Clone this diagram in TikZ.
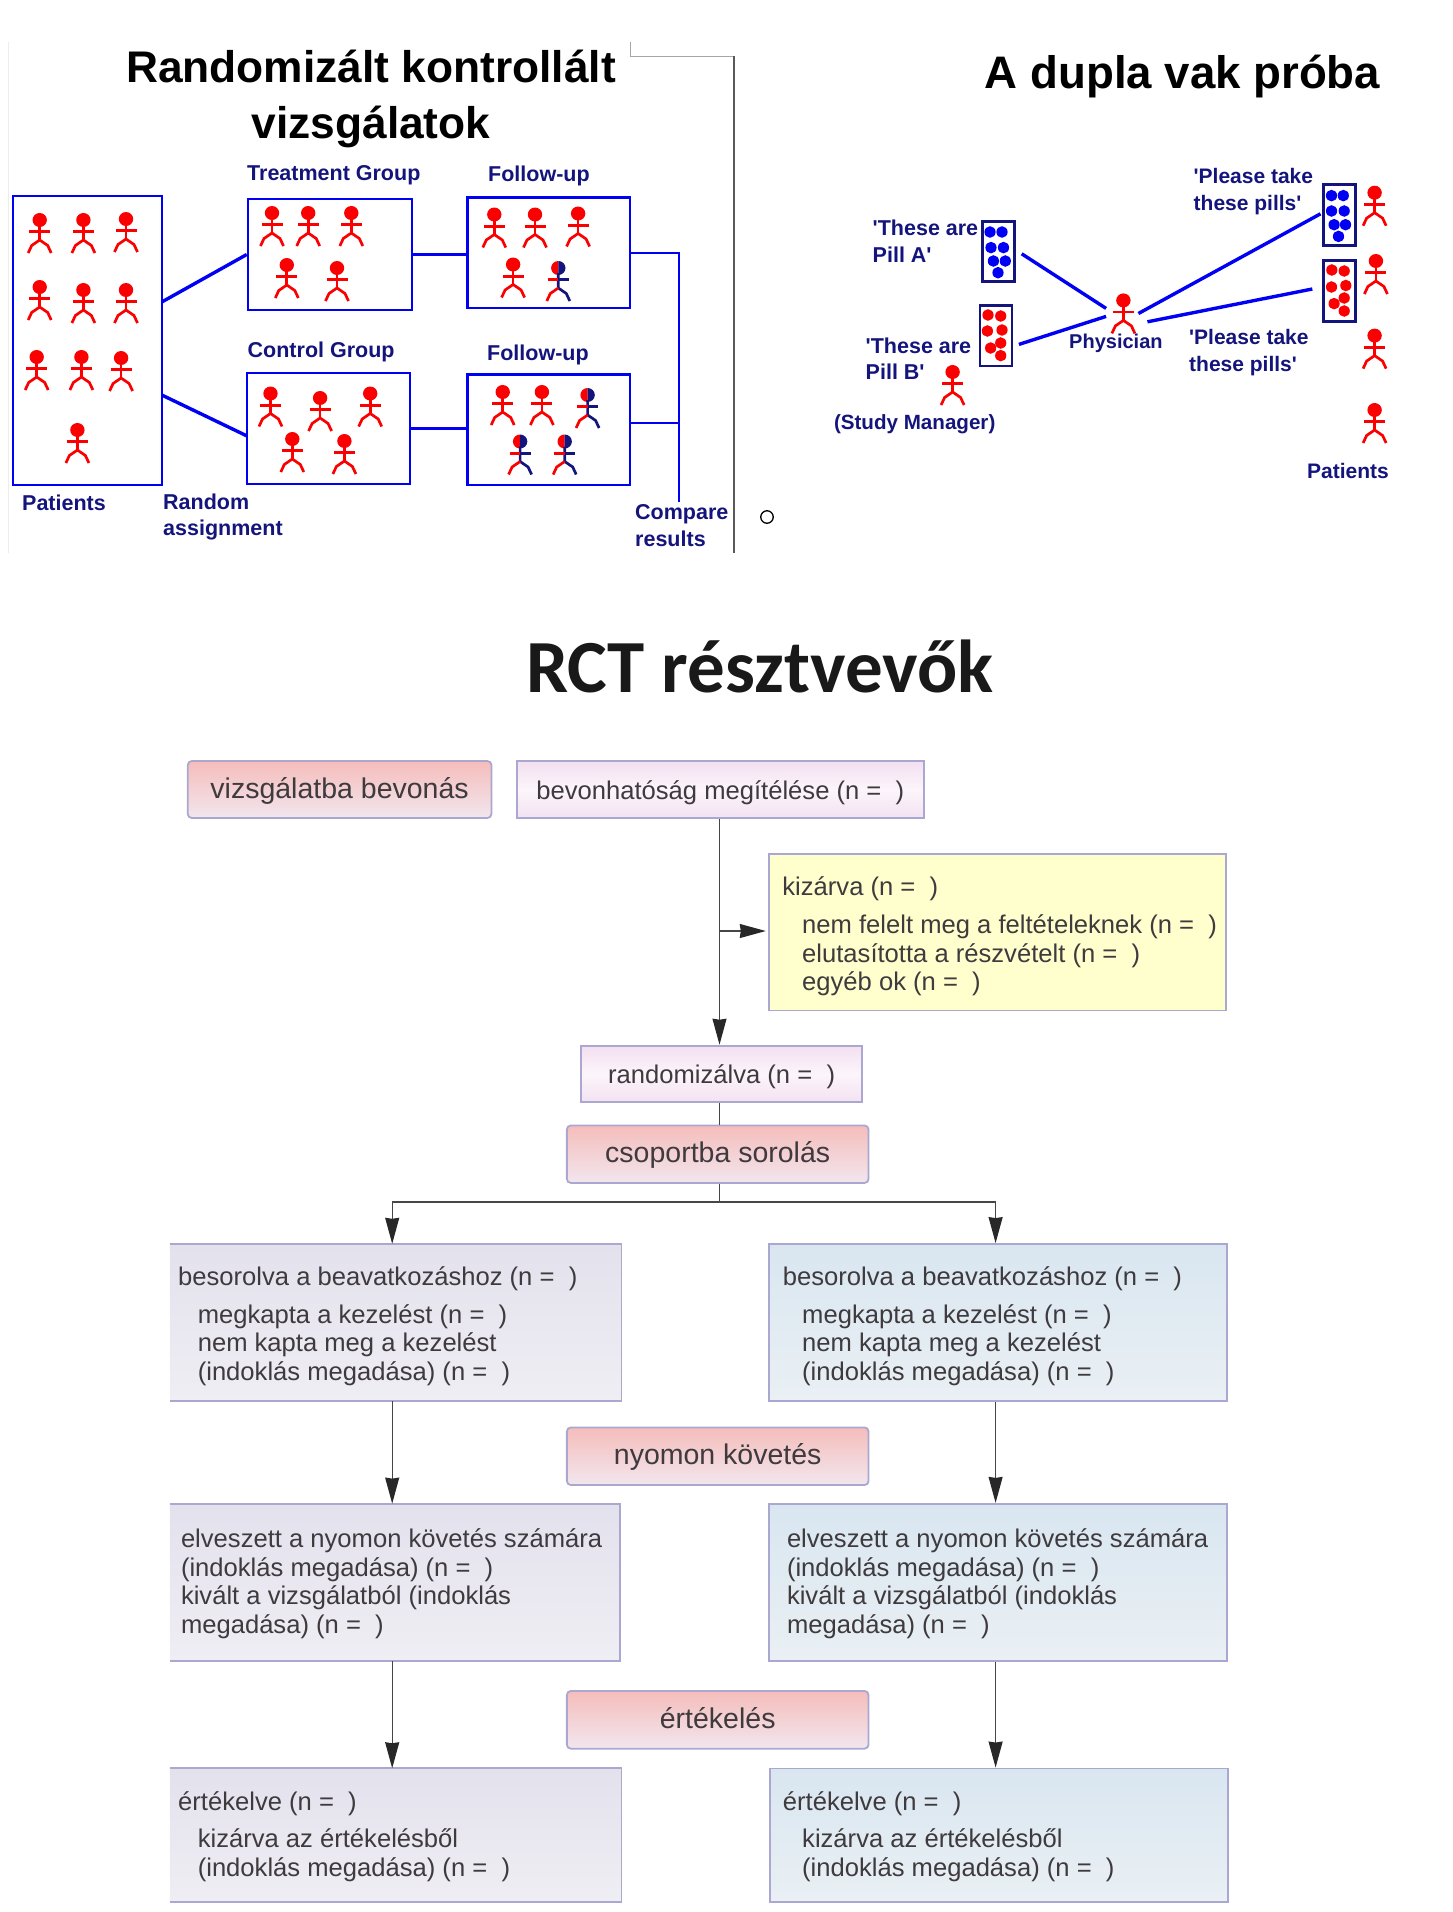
\documentclass[tikz,border=0pt]{standalone}
\usepackage{fontspec}
\setmainfont{Liberation Sans}
\newfontfamily\slidefont{Carlito}
\usetikzlibrary{positioning, arrows.meta, calc}

\definecolor{labelnavy}{RGB}{20,20,125}
\definecolor{wireblue}{RGB}{0,0,245}
\definecolor{stickred}{RGB}{250,0,0}
\definecolor{edgelilac}{RGB}{170,168,208}
\definecolor{flowgray}{RGB}{70,70,70}
\definecolor{tipgray}{RGB}{40,40,40}
\definecolor{copygray}{RGB}{62,58,62}
\definecolor{stagetop}{RGB}{245,189,187}
\definecolor{stagelow}{RGB}{242,230,238}
\definecolor{counttop}{RGB}{243,223,240}
\definecolor{countmid}{RGB}{252,245,251}
\definecolor{countlow}{RGB}{243,226,242}
\definecolor{notefill}{RGB}{255,255,205}
\definecolor{armLtop}{RGB}{227,225,236}
\definecolor{armLlow}{RGB}{239,238,244}
\definecolor{armRtop}{RGB}{217,230,240}
\definecolor{armRlow}{RGB}{234,240,244}

\newcommand{\stickman}[2]{%
  \fill[stickred] (#1,#2) ellipse (7.2 and 7);
  \draw[man, stickred] ($(#1,#2)+(0,5)$) -- ++(0,15);
  \draw[man, stickred] ($(#1,#2)+(-10.5,11.7)$) -- ++(21,0);
  \draw[man, stickred] ($(#1,#2)+(-11.5,33)$) -- ++(3.5,-7.5) -- ++(8,-5.5) -- ++(8,5.5) -- ++(3.5,7.5);
}
\newcommand{\halfman}[2]{%
  \fill[stickred] ($(#1,#2)+(0,-7)$) arc[start angle=90, end angle=270, x radius=7.2, y radius=-7];
  \fill[labelnavy] ($(#1,#2)+(0,-7)$) arc[start angle=90, end angle=-90, x radius=7.2, y radius=-7];
  \draw[man, labelnavy] ($(#1,#2)+(0,5)$) -- ++(0,15) -- ++(8,5.5) -- ++(3.5,7.5);
  \draw[man, stickred] ($(#1,#2)+(0,20)$) -- ++(-8,5.5) -- ++(-3.5,7.5);
  \draw[man, stickred] ($(#1,#2)+(-10.5,11.7)$) -- ++(10.5,0);
  \draw[man, labelnavy] ($(#1,#2)+(0,11.7)$) -- ++(10.5,0);
}

\begin{document}
\begin{tikzpicture}[
  x=1pt, y=-1pt,
  >=Stealth,
  man/.style={line width=2.7pt},
  wire/.style={draw=wireblue, line width=2.4pt},
  slash/.style={draw=wireblue, line width=3.4pt},
  group/.style={draw=wireblue, line width=2.5pt, inner sep=0pt},
  bottle/.style={draw=labelnavy, line width=2.6pt, inner sep=0pt,
                 minimum width=32pt, minimum height=60.5pt},
  lab/.style={font=\fontsize{#1}{26.5}\selectfont\bfseries, text=labelnavy,
              inner sep=0pt, align=left},
  lab/.default=21.5,
  head/.style={font=\fontsize{#1}{56}\selectfont\bfseries, text=black,
               inner sep=0pt, align=center},
  stage/.style={draw=edgelilac, line width=1.8pt, rounded corners=4pt, inner sep=0pt,
                top color=stagetop, bottom color=stagelow,
                font=\fontsize{28.5}{30}\selectfont, text=copygray,
                text height=23pt, text depth=6pt},
  count/.style={draw=edgelilac, line width=1.8pt, inner sep=0pt,
                top color=counttop, bottom color=countlow, middle color=countmid,
                font=\fontsize{25.6}{28.5}\selectfont, text=copygray,
                text height=25pt, text depth=5.8pt},
  notebox/.style={draw=edgelilac, line width=1.8pt, fill=notefill, inner sep=0pt},
  armL/.style={inner sep=0pt, top color=armLtop, bottom color=armLlow},
  armR/.style={draw=edgelilac, line width=1.8pt, inner sep=0pt,
               top color=armRtop, bottom color=armRlow},
  rim/.style={draw=edgelilac, line width=1.8pt},
  copy/.style={font=\fontsize{25.6}{28.5}\selectfont, text=copygray, inner sep=0pt, align=left},
  flow/.style={draw=flowgray, line width=1.3pt,
               -{Stealth[length=26pt, width=14pt, inset=1pt, color=tipgray]}},
  plain/.style={draw=flowgray, line width=1.3pt}
]
\useasboundingbox (0,0) rectangle (1452,1912);

% ---- Slide edges ----
\draw[black!7, line width=1pt] (8.5,42) -- (8.5,553);
\draw[black!35, line width=1pt] (630.2,42) -- (630.2,56) -- (734,56);
\draw[black!65, line width=1.2pt] (734,56) -- (734,553);

% ---- Left panel: title ----
\node[head=44.3] (titleRct) at (371,98.5) {Randomizált kontrollált\\vizsgálatok};

% ---- Left panel: groups ----
\node[group, minimum width=148.6pt, minimum height=289pt] (patients) at (87.5,340.5) {};
\node[group, minimum width=164pt, minimum height=111pt] (treat) at (330,254.5) {};
\node[group, minimum width=162.7pt, minimum height=110.5pt] (followA) at (548.8,252.75) {};
\node[group, minimum width=162.8pt, minimum height=111pt] (control) at (328.5,428.5) {};
\node[group, minimum width=162.7pt, minimum height=110.5pt] (followB) at (548.8,429.75) {};

\node[lab, anchor=base west] (treatLab) at (247,180) {Treatment Group};
\node[lab, anchor=base west] (followLabA) at (488,181.5) {Follow-up};
\node[lab, anchor=base west] (controlLab) at (247.5,357.5) {Control Group};
\node[lab, anchor=base west] (followLabB) at (487,360) {Follow-up};
\node[lab, anchor=base west] (patientsLab) at (22,510) {Patients};
\node[lab, anchor=west] (assignLab) at (163,517) {Random\\assignment};
\node[lab, anchor=west] (compareLab) at (635,525.5) {Compare\\results};

% ---- Left panel: connectors ----
\coordinate (splitA) at (161.8,302);
\coordinate (splitB) at (161.8,395);
\coordinate (joinB) at (247.1,436);
\coordinate (rail) at (678.9,252);
\coordinate (railEnd) at (678.9,502);
\coordinate (railB) at (678.9,423);
\draw[slash] (splitA) -- (treat.west);
\draw[slash] (splitB) -- (joinB);
\draw[wire] (treat.east) -- (followA.west |- treat.east);
\draw[wire] (control.east) -- (followB.west |- control.east);
\draw[wire] (followA.east) -- (followA.east -| rail) -- (railEnd);
\draw[wire] (followB.east |- railB) -- (railB);

% ---- Left panel: people ----
\foreach \px/\py in {39.7/220, 83.4/220, 126/219, 39.7/287, 83.4/290, 126/290, 36.7/357, 81.4/357, 121.1/358, 77.4/430,
  272/213, 308.2/213, 351.3/213, 286.8/265, 337/268,
  494.3/214.5, 535/214.5, 578.1/213.5, 513.1/264.5,
  270.5/393.5, 320.1/398, 370.2/393.5, 292.3/439, 344.4/441,
  502.7/392, 541.9/392}
  {\stickman{\px}{\py}}
\foreach \px/\py in {558.3/268, 587.6/395, 520.1/441.5, 564.7/441.5}
  {\halfman{\px}{\py}}

% ---- Right panel ----
\node[head=45.6] (titleBlind) at (1182.5,76.5) {A dupla vak próba};
\node[bottle] (pillA) at (998.7,251.5) {};
\node[bottle] (pillB) at (995.9,335.7) {};
\node[bottle] (takeA) at (1339.5,215) {};
\node[bottle] (takeB) at (1339.5,291) {};

\foreach \px/\py in {990/232, 1002/232, 991/247.6, 1003.5/247.6, 993.4/261, 1005.3/261, 998/272.7,
  1331.5/195.6, 1343.3/195.6, 1331.5/211, 1344.2/211, 1334.1/224.7, 1345.5/224.7, 1338.5/236.4}
  {\fill[wireblue] (\px,\py) ellipse (5.6 and 5.8);}
\foreach \px/\py in {988/315, 1000.7/316, 987.4/331, 1002/330, 1000.7/343, 990.6/348, 1000.7/355.6,
  1331.8/270, 1344.2/271, 1331.5/287, 1345.8/285.5, 1344.2/298, 1334.1/303.6, 1344.2/311}
  {\fill[stickred] (\px,\py) ellipse (5.6 and 5.8);}

\foreach \px/\py in {1123.4/300.4, 952.6/372, 1374.6/192.7, 1375.9/261, 1374.6/335.6, 1374.6/410}
  {\stickman{\px}{\py}}

\node[lab, anchor=west] (pillLabA) at (872.5,241) {\textquotesingle These are\\Pill A\textquotesingle};
\node[lab, anchor=west] (pillLabB) at (865.5,358.5) {\textquotesingle These are\\Pill B\textquotesingle};
\node[lab=20.6, anchor=base west] (managerLab) at (833.8,429.5) {(Study Manager)};
\node[lab=20, anchor=base west] (physicianLab) at (1069,348) {Physician};
\node[lab=21, anchor=west] (takeLabA) at (1193.5,191.5) {\textquotesingle Please take\\these pills\textquotesingle};
\node[lab=21, anchor=west] (takeLabB) at (1189,352.4) {\textquotesingle Please take\\these pills\textquotesingle};
\node[lab=21, anchor=base west] (patientsLabR) at (1307,478.5) {Patients};

\coordinate (docA) at (1106.1,308.4);
\coordinate (docB) at (1106.1,316.4);
\coordinate (docC) at (1138.4,313.5);
\coordinate (docD) at (1147.4,321.8);
\coordinate (pillEndA) at (1021.7,253.8);
\coordinate (pillEndB) at (1018.9,344.4);
\coordinate (takeEndA) at (1320.5,213.8);
\coordinate (takeEndB) at (1312.3,289);
\draw[slash] (pillEndA) -- (docA);
\draw[slash] (pillEndB) -- (docB);
\draw[slash] (docC) -- (takeEndA);
\draw[slash] (docD) -- (takeEndB);

\node[draw=black, line width=1.3pt, circle, minimum size=12.5pt, inner sep=0pt] (bullet) at (767,517) {};

% ---- Flow chart title ----
\node[font=\slidefont\fontsize{75}{80}\selectfont\bfseries, text=black!90, inner sep=0pt] (titleFlow) at (760,666) {RCT résztvevők};

% ---- Flow chart: top ----
\node[stage, minimum width=303.6pt, minimum height=57pt] (enrol) at (339.6,789.5) {vizsgálatba bevonás};
\node[count, minimum width=407pt, minimum height=57pt] (assess) at (720.3,789.5) {bevonhatóság megítélése (n =\ \ )};
\node[notebox, minimum width=457.2pt, minimum height=156.5pt] (excluded) at (997.3,932.2) {};
\node[copy, anchor=west] (excludedTop) at (782.2,888.5) {kizárva (n =\ \ )};
\node[copy, anchor=west] (excludedSub) at (802,955.5) {nem felelt meg a feltételeknek (n =\ \ )\\elutasította a részvételt (n =\ \ )\\egyéb ok (n =\ \ )};
\node[count, minimum width=281pt, minimum height=56.4pt] (random) at (721.6,1073.8) {randomizálva (n =\ \ )};
\node[stage, minimum width=301.7pt, minimum height=57.5pt] (allocate) at (717.7,1154.2) {csoportba sorolás};

% ---- Flow chart: arms ----
\node[armL, minimum width=451.5pt, minimum height=157pt] (treatedL) at (395.6,1322.5) {};
\node[armR, minimum width=457.9pt, minimum height=157pt] (treatedR) at (997.7,1322.5) {};
\node[armL, minimum width=450.2pt, minimum height=157.2pt] (lostL) at (394.9,1582.4) {};
\node[armR, minimum width=457.9pt, minimum height=157.2pt] (lostR) at (997.7,1582.4) {};
\node[armL, minimum width=451.5pt, minimum height=133.5pt] (ratedL) at (395.6,1835.2) {};
\node[armR, minimum width=457.6pt, minimum height=133.5pt] (ratedR) at (999,1835.2) {};
\foreach \arm in {treatedL, lostL, ratedL}
  {\draw[rim] (\arm.north west) -- (\arm.north east) -- (\arm.south east) -- (\arm.south west);}
\node[stage, minimum width=301.7pt, minimum height=57.6pt] (followup) at (717.7,1456.2) {nyomon követés};
\node[stage, minimum width=301.7pt, minimum height=57.7pt] (rating) at (717.7,1719.8) {értékelés};

\foreach \side/\xa/\xb in {L/178/197.6, R/782.7/802}
{
  \node[copy, anchor=west] (treatedTop\side) at (\xa,1278.6) {besorolva a beavatkozáshoz (n =\ \ )};
  \node[copy, anchor=west] (treatedSub\side) at (\xb,1344.8) {megkapta a kezelést (n =\ \ )\\nem kapta meg a kezelést\\(indoklás megadása) (n =\ \ )};
  \node[copy, anchor=west] (ratedTop\side) at (\xa,1803.4) {értékelve (n =\ \ )};
  \node[copy, anchor=west] (ratedSub\side) at (\xb,1855) {kizárva az értékelésből\\(indoklás megadása) (n =\ \ )};
}
\node[copy, anchor=west] (lostTextL) at (180.8,1583.7) {elveszett a nyomon követés számára\\(indoklás megadása) (n =\ \ )\\kivált a vizsgálatból (indoklás\\megadása) (n =\ \ )};
\node[copy, anchor=west] (lostTextR) at (786.8,1583.7) {elveszett a nyomon követés számára\\(indoklás megadása) (n =\ \ )\\kivált a vizsgálatból (indoklás\\megadása) (n =\ \ )};

% ---- Flow chart: connectors ----
\coordinate (spine) at (719.5,1202);
\coordinate (colL) at (392.2,1202);
\coordinate (colR) at (995.6,1202);
\coordinate (branch) at (719.5,931);
\draw[flow] (spine |- assess.south) -- (spine |- random.north);
\draw[flow, shorten >=2pt] (branch) -- (excluded.west |- branch);
\draw[plain] (spine |- random.south) -- (spine |- allocate.north);
\draw[plain] (spine |- allocate.south) -- (spine);
\draw[flow] (spine) -- (colL) -- (colL |- treatedL.north);
\draw[flow] (spine) -- (colR) -- (colR |- treatedR.north);
\draw[flow] (colL |- treatedL.south) -- (colL |- lostL.north);
\draw[flow] (colR |- treatedR.south) -- (colR |- lostR.north);
\draw[flow] (colL |- lostL.south) -- (colL |- ratedL.north);
\draw[flow] (colR |- lostR.south) -- (colR |- ratedR.north);

\end{tikzpicture}
\end{document}
